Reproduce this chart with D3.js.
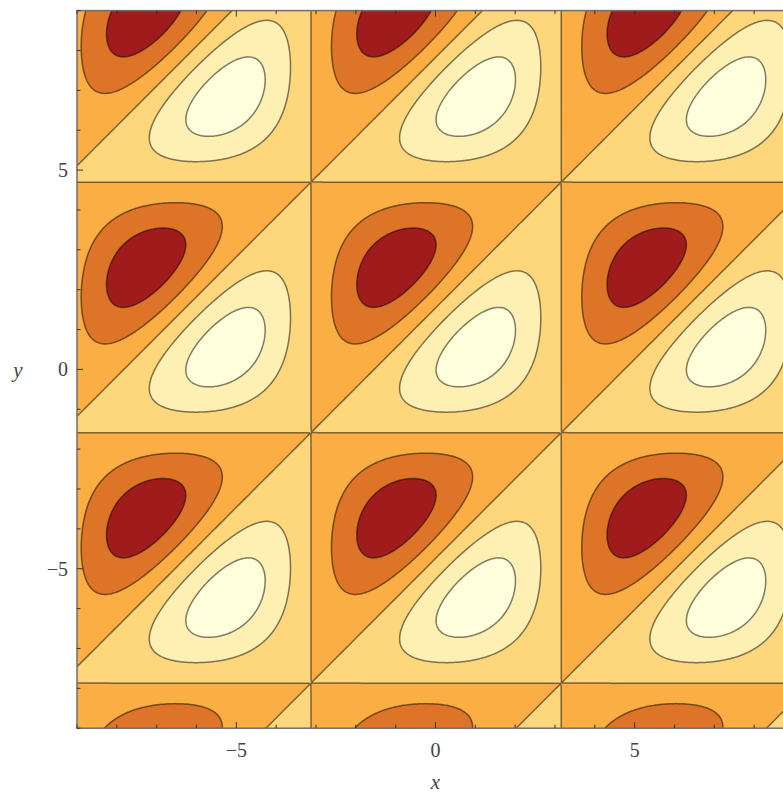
<!DOCTYPE html>
<html><head><meta charset="utf-8">
<script src="https://cdn.jsdelivr.net/npm/d3@7"></script>
<style>body{margin:0;background:#fff} svg{display:block}</style>
</head><body>
<svg id="chart" width="783" height="796"></svg>
<script>
// ---- data ----
const xDomain = [-9, 9];
const yDomain = [-9, 9];
const contourLevels = [-2, -1, 0, 1, 2];
const bandColors = ["#a01c1c", "#dd7427", "#fbae43", "#fed67c", "#feefb2", "#ffffdb"];
const xTickValues = [-5, 0, 5];
const yTickValues = [-5, 0, 5];
const xTickLabels = ["\u22125", "0", "5"];
const yTickLabels = ["\u22125", "0", "5"];
const minorTickStep = 1;
const xAxisLabel = "x";
const yAxisLabel = "y";
// plotted function: sin(x) + cos(y) + cos(x - y)
function plottedFunction(x, y) { return Math.sin(x) + Math.cos(y) + Math.cos(x - y); }

// ---- layout ----
const W = 783, H = 796;
const plot = {left: 77, right: 794, top: 10.6, bottom: 728.2};
const xs = d3.scaleLinear().domain(xDomain).range([plot.left, plot.right]);
const ys = d3.scaleLinear().domain(yDomain).range([plot.bottom, plot.top]);

const svg = d3.select("#chart");
svg.append("defs").append("clipPath").attr("id", "clip")
  .append("rect").attr("x", plot.left).attr("y", plot.top)
  .attr("width", plot.right - plot.left).attr("height", plot.bottom - plot.top);

// ---- sample grid ----
const pad = 0.3;
const gx0 = xDomain[0] - pad, gx1 = xDomain[1] + pad;
const gy1 = yDomain[1] + pad;
const n = 600;
const step = (gx1 - gx0) / (n - 1);
const values = new Float64Array(n * n);
for (let j = 0; j < n; j++) {
  const y = gy1 - j * step;
  for (let i = 0; i < n; i++) values[j * n + i] = plottedFunction(gx0 + i * step, y);
}
const contours = d3.contours().size([n, n]).thresholds(contourLevels)(values);
const proj = d3.geoTransform({point(cx, cy) { this.stream.point(xs(gx0 + cx * step), ys(gy1 - cy * step)); }});
const path = d3.geoPath(proj);

const g = svg.append("g").attr("clip-path", "url(#clip)");
g.append("rect").attr("x", plot.left).attr("y", plot.top)
  .attr("width", plot.right - plot.left).attr("height", plot.bottom - plot.top)
  .attr("fill", bandColors[0]);
g.selectAll("path.band").data(contours).join("path").attr("class", "band")
  .attr("d", path).attr("fill", (d, i) => bandColors[i + 1]);
g.selectAll("path.line").data(contours).join("path").attr("class", "line")
  .attr("d", path).attr("fill", "none")
  .attr("stroke", "rgba(0,0,0,0.5)").attr("stroke-width", 1.5);

// ---- frame ----
svg.append("rect").attr("x", plot.left).attr("y", plot.top)
  .attr("width", plot.right - plot.left).attr("height", plot.bottom - plot.top)
  .attr("fill", "none").attr("stroke", "#6f6f6f").attr("stroke-width", 1.5);

// ---- ticks ----
const tickColor = "#333";
const xMinor = d3.range(Math.ceil(xDomain[0]), xDomain[1] + 0.001, minorTickStep);
const yMinor = d3.range(Math.ceil(yDomain[0]), yDomain[1] + 0.001, minorTickStep);
const tg = svg.append("g").attr("stroke", tickColor).attr("stroke-width", 1);
xMinor.forEach(v => {
  const len = xTickValues.includes(v) ? 6 : 3.5;
  tg.append("line").attr("x1", xs(v)).attr("x2", xs(v)).attr("y1", plot.bottom).attr("y2", plot.bottom - len);
  tg.append("line").attr("x1", xs(v)).attr("x2", xs(v)).attr("y1", plot.top).attr("y2", plot.top + len);
});
yMinor.forEach(v => {
  const len = yTickValues.includes(v) ? 6 : 3.5;
  tg.append("line").attr("y1", ys(v)).attr("y2", ys(v)).attr("x1", plot.left).attr("x2", plot.left + len);
});

// ---- labels ----
const font = "'Liberation Serif', 'DejaVu Serif', serif";
svg.selectAll("text.xt").data(xTickValues).join("text").attr("class", "xt")
  .attr("x", d => xs(d)).attr("y", 757).attr("text-anchor", "middle")
  .attr("font-family", font).attr("font-size", 20).attr("fill", "#444")
  .text((d, i) => xTickLabels[i]);
svg.selectAll("text.yt").data(yTickValues).join("text").attr("class", "yt")
  .attr("x", 68).attr("y", d => ys(d) + 7).attr("text-anchor", "end")
  .attr("font-family", font).attr("font-size", 20).attr("fill", "#444")
  .text((d, i) => yTickLabels[i]);
svg.append("text").attr("x", xs(0)).attr("y", 789).attr("text-anchor", "middle")
  .attr("font-family", font).attr("font-style", "italic").attr("font-size", 21).attr("fill", "#444")
  .text(xAxisLabel);
svg.append("text").attr("x", 18).attr("y", 377).attr("text-anchor", "middle")
  .attr("font-family", font).attr("font-style", "italic").attr("font-size", 21).attr("fill", "#444")
  .text(yAxisLabel);
</script>
</body></html>
